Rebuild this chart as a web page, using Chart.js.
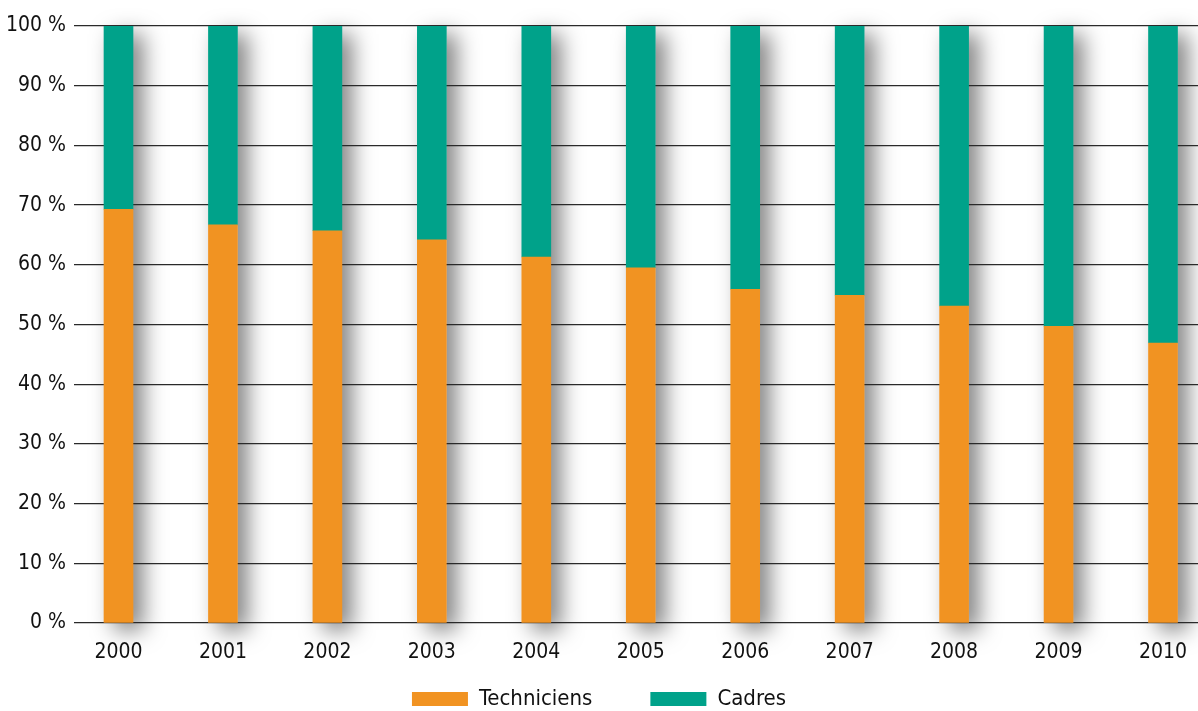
<!DOCTYPE html>
<html>
<head>
<meta charset="utf-8">
<script src="https://cdn.jsdelivr.net/npm/chart.js@4/dist/chart.umd.min.js"></script>
<style>
  html, body { margin: 0; padding: 0; background: #fff; }
  #wrap { width: 1198px; height: 711px; position: relative; }
</style>
</head>
<body>
<div id="wrap"><canvas id="c" width="1198" height="711"></canvas></div>
<script>
// Répartition techniciens / cadres, en % de l'effectif
const years = ['2000', '2001', '2002', '2003', '2004', '2005', '2006', '2007', '2008', '2009', '2010'];
const techniciens = [69.3, 66.7, 65.7, 64.2, 61.3, 59.5, 55.9, 54.9, 53.1, 49.7, 46.9];
const cadres = [30.7, 33.3, 34.3, 35.8, 38.7, 40.5, 44.1, 45.1, 46.9, 50.3, 53.1];
const yTicks = [0, 10, 20, 30, 40, 50, 60, 70, 80, 90, 100];

const ORANGE = '#F19322';
const TEAL = '#00A28A';
const FONT = "'Liberation Sans Narrow', 'DejaVu Sans Condensed', 'Roboto', sans-serif";
const LEGEND_GAP = 58;

// Soft drop shadow behind each full column, drawn before the grid
const columnShadow = {
  id: 'columnShadow',
  beforeDraw(chart) {
    const metaT = chart.getDatasetMeta(0);
    const metaC = chart.getDatasetMeta(1);
    const ctx = chart.ctx;
    ctx.save();
    ctx.shadowColor = 'rgba(0,0,0,0.5)';
    ctx.shadowBlur = 22;
    ctx.shadowOffsetX = 10;
    ctx.shadowOffsetY = 8;
    ctx.fillStyle = '#ffffff';
    metaT.data.forEach((bar, i) => {
      const top = metaC.data[i].y;
      const w = bar.width;
      ctx.fillRect(bar.x - w / 2, top, w, bar.base - top);
    });
    ctx.restore();
  }
};

// Keep the legend row low under the year labels despite its wide item spacing
const legendRow = {
  id: 'legendRow',
  afterLayout(chart) {
    const lg = chart.legend;
    if (!lg) return;
    lg.top = 630;
    lg.bottom = chart.height;
    lg.height = lg.bottom - lg.top;
  }
};

const chart = new Chart(document.getElementById('c'), {
  type: 'bar',
  data: {
    datasets: [
      {
        label: 'Techniciens',
        data: techniciens.map((v, i) => ({ x: i, y: v })),
        backgroundColor: ORANGE,
        borderWidth: 0,
        barThickness: 29
      },
      {
        label: 'Cadres',
        data: cadres.map((v, i) => ({ x: i, y: v })),
        backgroundColor: TEAL,
        borderWidth: 0,
        barThickness: 29
      }
    ]
  },
  options: {
    responsive: false,
    animation: false,
    layout: { padding: { top: 26, right: 0, left: 0, bottom: 0 } },
    plugins: {
      tooltip: { enabled: false },
      legend: {
        position: 'bottom',
        maxHeight: 42,
        labels: {
          boxWidth: 56,
          boxHeight: 14,
          padding: LEGEND_GAP,
          color: '#111',
          font: { family: FONT, size: 22 }
        }
      }
    },
    scales: {
      x: {
        type: 'linear',
        stacked: true,
        offset: false,
        min: -0.426,
        max: 10.335,
        afterBuildTicks(scale) {
          scale.ticks = years.map((_, i) => ({ value: i }));
        },
        afterFit(scale) {
          scale.height = 46;
          scale.paddingLeft = 0;
          scale.paddingRight = 0;
        },
        grid: { display: false, drawTicks: false },
        border: { display: false },
        ticks: {
          padding: 17,
          color: '#111',
          font: { family: FONT, size: 21 },
          maxRotation: 0,
          autoSkip: false,
          callback: (v) => years[v]
        }
      },
      y: {
        stacked: true,
        min: 0,
        max: 100,
        afterBuildTicks(scale) {
          scale.ticks = yTicks.map(v => ({ value: v }));
        },
        afterFit(scale) { scale.width = 74; },
        grid: { color: '#2a2a2a', lineWidth: 1.3, drawTicks: false },
        border: { display: false },
        ticks: {
          padding: 8,
          color: '#111',
          font: { family: FONT, size: 21 },
          callback: (v) => v + ' %'
        }
      }
    }
  },
  plugins: [columnShadow, legendRow]
});
</script>
</body>
</html>
